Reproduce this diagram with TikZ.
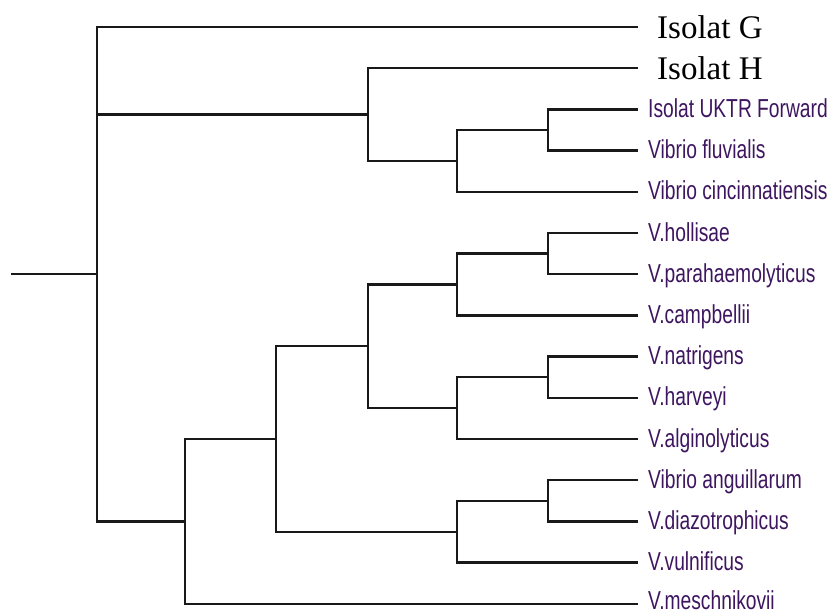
\documentclass[tikz,border=0pt]{standalone}
\usepackage{fontspec}
\setmainfont{Liberation Serif}
\newfontfamily\labfont[FakeStretch=0.74]{Liberation Sans}
\definecolor{labcol}{RGB}{62,22,96}
\definecolor{branch}{RGB}{25,25,25}
\begin{document}
\begin{tikzpicture}[x=1pt,y=-1pt,
  br/.style={draw=branch,line width=2.3pt,line join=miter},
  biglab/.style={anchor=base west,inner sep=0pt,font=\fontsize{33}{36}\selectfont,text=black},
  smalllab/.style={anchor=base west,inner sep=0pt,font=\labfont\fontsize{26}{30}\selectfont,text=labcol}]
\useasboundingbox (0,0) rectangle (835,614);
% leaf tips
\coordinate (tG) at (638,27);
\coordinate (tH) at (638,68.2);
\coordinate (tU) at (638,109.4);
\coordinate (tF) at (638,150.6);
\coordinate (tC) at (638,191.8);
\coordinate (tHo) at (638,233);
\coordinate (tPa) at (638,274.2);
\coordinate (tCa) at (638,315.4);
\coordinate (tNa) at (638,356.6);
\coordinate (tHa) at (638,397.8);
\coordinate (tAl) at (638,439);
\coordinate (tAn) at (638,480.2);
\coordinate (tDi) at (638,521.4);
\coordinate (tVu) at (638,562.6);
\coordinate (tMe) at (638,603.8);
% labels
\node[biglab] (lG) at (657,38) {Isolat G};
\node[biglab] (lH) at (657,79.2) {Isolat H};
\node[smalllab] (lU) at (648,117.4) {Isolat UKTR Forward};
\node[smalllab] (lF) at (648,158.6) {Vibrio fluvialis};
\node[smalllab] (lC) at (648,199.8) {Vibrio cincinnatiensis};
\node[smalllab] (lHo) at (648,241) {V.hollisae};
\node[smalllab] (lPa) at (648,282.2) {V.parahaemolyticus};
\node[smalllab] (lCa) at (648,323.4) {V.campbellii};
\node[smalllab] (lNa) at (648,364.6) {V.natrigens};
\node[smalllab] (lHa) at (648,405.8) {V.harveyi};
\node[smalllab] (lAl) at (648,447) {V.alginolyticus};
\node[smalllab] (lAn) at (648,488.2) {Vibrio anguillarum};
\node[smalllab] (lDi) at (648,529.4) {V.diazotrophicus};
\node[smalllab] (lVu) at (648,570.6) {V.vulnificus};
\node[smalllab] (lMe) at (648,609) {V.meschnikovii};
% internal nodes
\coordinate (n1) at (548,130);
\coordinate (n2) at (457,160.9);
\coordinate (n3) at (368,114.6);
\coordinate (n4) at (548,253.6);
\coordinate (n5) at (457,284.5);
\coordinate (n6) at (548,377.2);
\coordinate (n7) at (457,408.1);
\coordinate (n8) at (368,346.3);
\coordinate (n9) at (548,500.8);
\coordinate (n10) at (457,531.7);
\coordinate (n11) at (276,439);
\coordinate (n12) at (185,521.4);
\coordinate (root) at (97,274.2);
\coordinate (rootstem) at (11,274.2);
% branches
\draw[br] (n1) |- (tU);
\draw[br] (n1) |- (tF);
\draw[br] (n2) |- (n1);
\draw[br] (n2) |- (tC);
\draw[br] (n3) |- (tH);
\draw[br] (n3) |- (n2);
\draw[br] (n4) |- (tHo);
\draw[br] (n4) |- (tPa);
\draw[br] (n5) |- (n4);
\draw[br] (n5) |- (tCa);
\draw[br] (n6) |- (tNa);
\draw[br] (n6) |- (tHa);
\draw[br] (n7) |- (n6);
\draw[br] (n7) |- (tAl);
\draw[br] (n8) |- (n5);
\draw[br] (n8) |- (n7);
\draw[br] (n9) |- (tAn);
\draw[br] (n9) |- (tDi);
\draw[br] (n10) |- (n9);
\draw[br] (n10) |- (tVu);
\draw[br] (n11) |- (n8);
\draw[br] (n11) |- (n10);
\draw[br] (n12) |- (n11);
\draw[br] (n12) |- (tMe);
\draw[br] (root) |- (tG);
\draw[br] (root) |- (n3);
\draw[br] (root) |- (n12);
\draw[br] (rootstem) -- (root);
\end{tikzpicture}
\end{document}
